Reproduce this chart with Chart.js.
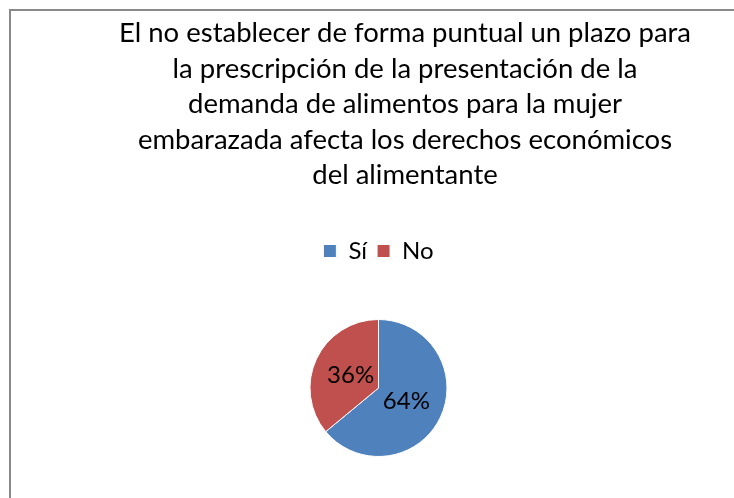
<!DOCTYPE html>
<html lang="es">
<head>
<meta charset="utf-8">
<script src="https://cdn.jsdelivr.net/npm/chart.js@4.4.0/dist/chart.umd.min.js"></script>
<style>
    html, body { margin: 0; padding: 0; background: #fff; overflow: hidden; }
    #marco { position: absolute; left: 9px; top: 9px; width: 740px; height: 500px; border-top: 2px solid #898989; border-left: 2px solid #898989; }
    #contenedor { position: absolute; left: 0; top: 0; width: 734px; height: 498px; }
</style>
</head>
<body>
<div id="marco"></div>
<div id="contenedor"><canvas id="grafico"></canvas></div>
<script>
//datos del gráfico
const categorias = ["Sí", "No"];
const valores = [64, 36];
const colores = ["#4F81BD", "#C0504D"];
const lineasTitulo = [
    "El no establecer de forma puntual un plazo para",
    "la prescripción de la presentación de la",
    "demanda de alimentos para la mujer",
    "embarazada afecta los derechos económicos",
    "del alimentante"
];

//titulo dibujado a mano (centrado distinto al del gráfico)
const tituloPlugin = {
    id: "tituloPlugin",
    afterDraw(chart) {
        const c = chart.ctx;
        c.save();
        c.font = "27.5px Lato";
        c.fillStyle = "#000";
        c.textAlign = "center";
        c.textBaseline = "alphabetic";
        lineasTitulo.forEach((linea, i) => {
            c.fillText(linea, 405, 42 + i * 35.5);
        });
        c.restore();
    }
};

//espacio extra bajo la leyenda
const espacioLeyenda = {
    id: "espacioLeyenda",
    beforeInit(chart) {
        const fitOriginal = chart.legend.fit;
        chart.legend.fit = function () {
            fitOriginal.bind(chart.legend)();
            this.height += 46;
        };
    }
};

//porcentajes dentro de cada porción
const etiquetas = {
    id: "etiquetas",
    afterDatasetsDraw(chart) {
        const c = chart.ctx;
        const total = valores.reduce((a, b) => a + b, 0);
        const meta = chart.getDatasetMeta(0);
        c.save();
        c.font = "24px Lato";
        c.fillStyle = "#000";
        c.textAlign = "center";
        c.textBaseline = "middle";
        meta.data.forEach((arco, i) => {
            const p = arco.getProps(["x", "y", "startAngle", "endAngle", "outerRadius"], true);
            const medio = (p.startAngle + p.endAngle) / 2;
            const d = p.outerRadius * 0.45;
            const texto = Math.round(valores[i] / total * 100) + "%";
            c.fillText(texto, p.x + Math.cos(medio) * d, p.y + Math.sin(medio) * d);
        });
        c.restore();
    }
};

const ctx = document.getElementById("grafico").getContext("2d");
const grafico = new Chart(ctx, {
    type: "pie",
    data: {
        labels: categorias,
        datasets: [{
            data: valores,
            backgroundColor: colores,
            borderColor: "#ffffff",
            borderWidth: 1
        }]
    },
    options: {
        responsive: true,
        maintainAspectRatio: false,
        animation: false,
        layout: {
            padding: { top: 229, left: 23, right: 0, bottom: 41 }
        },
        plugins: {
            legend: {
                position: "top",
                labels: {
                    font: { family: "Lato", size: 24 },
                    color: "#000",
                    boxWidth: 13,
                    boxHeight: 13,
                    padding: 10
                }
            },
            tooltip: { enabled: false }
        }
    },
    plugins: [tituloPlugin, espacioLeyenda, etiquetas]
});
</script>
</body>
</html>
